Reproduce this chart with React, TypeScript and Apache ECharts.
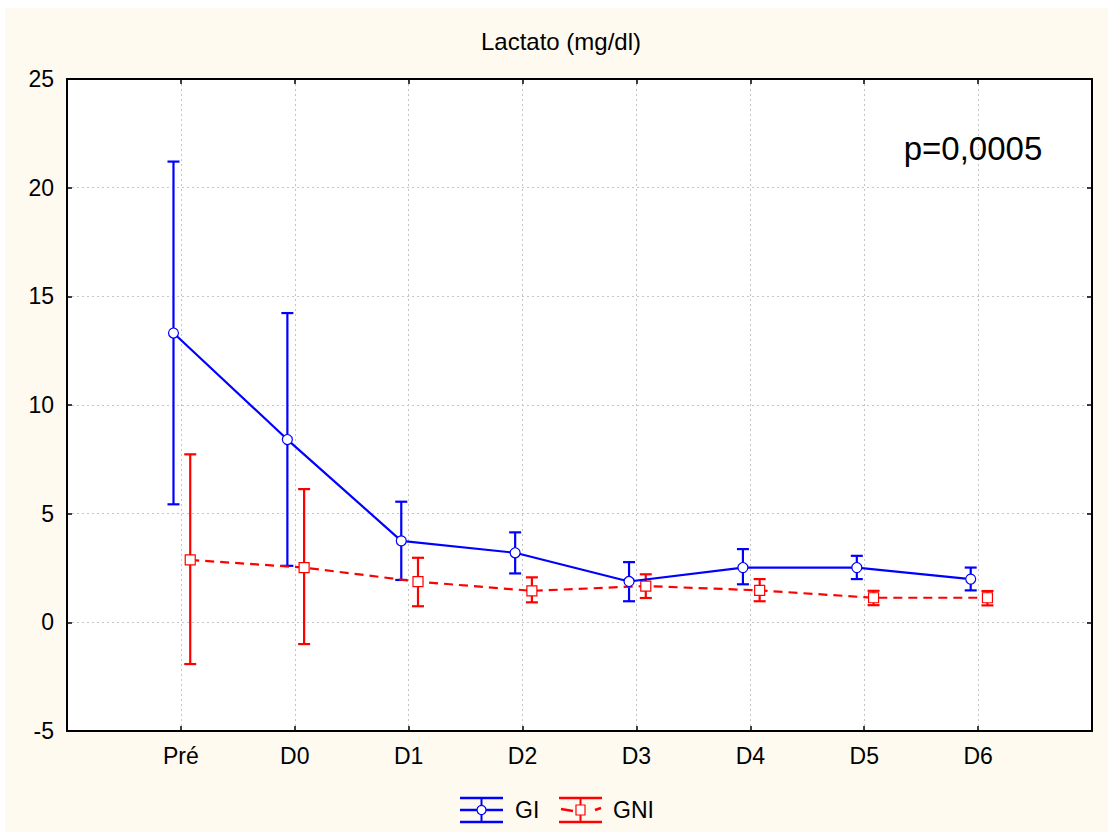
import React, { useEffect, useRef } from "react";
import * as echarts from "echarts";

const categories = ["Pré", "D0", "D1", "D2", "D3", "D4", "D5", "D6"];
const giMean = [13.31, 8.41, 3.75, 3.2, 1.88, 2.52, 2.52, 1.99];
const giLow = [5.43, 2.6, 1.95, 2.25, 0.97, 1.75, 1.99, 1.47];
const giHigh = [21.2, 14.23, 5.55, 4.14, 2.77, 3.37, 3.06, 2.52];
const gniMean = [2.87, 2.52, 1.87, 1.45, 1.67, 1.47, 1.13, 1.13];
const gniLow = [-1.92, -1.0, 0.74, 0.92, 1.12, 0.97, 0.79, 0.78];
const gniHigh = [7.73, 6.13, 2.97, 2.07, 2.21, 1.99, 1.45, 1.44];
const yMin = -5;
const yMax = 25;
const yStep = 5;
const titleText = "Lactato (mg/dl)";
const pText = "p=0,0005";
const seriesNames = ["GI", "GNI"];

const BLUE = "#0000ff";
const RED = "#ff0000";
const FONT = "'Liberation Sans', Arial, sans-serif";
const GI_OFFSET = -0.065;
const GNI_OFFSET = 0.082;

function errorBarSeries(name: string, low: number[], high: number[], offset: number, color: string) {
  return {
    type: "custom",
    name: name + "-err",
    xAxisIndex: 0,
    yAxisIndex: 0,
    z: 2,
    encode: { x: 0, y: [1, 2] },
    data: categories.map((_, i) => [i + offset, low[i], high[i]]),
    renderItem: (params: any, api: any) => {
      const x = api.value(0);
      const top = api.coord([x, api.value(2)]);
      const bot = api.coord([x, api.value(1)]);
      const w = 6;
      const style = { stroke: color, lineWidth: 2.2 };
      return {
        type: "group",
        children: [
          { type: "line", shape: { x1: top[0], y1: top[1], x2: bot[0], y2: bot[1] }, style },
          { type: "line", shape: { x1: top[0] - w, y1: top[1], x2: top[0] + w, y2: top[1] }, style },
          { type: "line", shape: { x1: bot[0] - w, y1: bot[1], x2: bot[0] + w, y2: bot[1] }, style },
        ],
      };
    },
  };
}

export default function App() {
  const ref = useRef<HTMLDivElement>(null);
  useEffect(() => {
    if (!ref.current) return;
    const chart = echarts.init(ref.current, null, { renderer: "svg" });
    const axisLine = { show: true, onZero: false, lineStyle: { color: "#000", width: 2 } };
    const tick = { show: true, inside: true, length: 5, lineStyle: { color: "#000", width: 1.5 } };
    const split = { show: true, lineStyle: { color: "#c4c4c4", type: [2, 3], width: 1 } };
    const option: any = {
      animation: false,
      backgroundColor: "transparent",
      grid: {
        left: 62,
        top: 71,
        width: 1025,
        height: 652,
        show: true,
        backgroundColor: "#ffffff",
        borderWidth: 0,
      },
      xAxis: [
        {
          type: "value",
          position: "bottom",
          min: -1,
          max: categories.length,
          interval: 1,
          axisLine,
          axisTick: tick,
          splitLine: split,
          axisLabel: {
            formatter: (v: number) => (categories[v] !== undefined ? categories[v] : ""),
            color: "#000",
            fontSize: 23,
            fontFamily: FONT,
            margin: 13,
          },
        },
        {
          type: "value",
          position: "top",
          min: -1,
          max: categories.length,
          interval: 1,
          axisLine,
          axisTick: tick,
          splitLine: { show: false },
          axisLabel: { show: false },
        },
      ],
      yAxis: [
        {
          type: "value",
          position: "left",
          min: yMin,
          max: yMax,
          interval: yStep,
          axisLine,
          axisTick: tick,
          splitLine: split,
          axisLabel: { color: "#000", fontSize: 23, fontFamily: FONT, margin: 13 },
        },
        {
          type: "value",
          position: "right",
          min: yMin,
          max: yMax,
          interval: yStep,
          axisLine,
          axisTick: tick,
          splitLine: { show: false },
          axisLabel: { show: false },
        },
      ],
      series: [
        errorBarSeries(seriesNames[1], gniLow, gniHigh, GNI_OFFSET, RED),
        errorBarSeries(seriesNames[0], giLow, giHigh, GI_OFFSET, BLUE),
        {
          type: "line",
          name: seriesNames[1],
          z: 3,
          data: categories.map((_, i) => [i + GNI_OFFSET, gniMean[i]]),
          lineStyle: { color: RED, width: 2.2, type: [9, 6] },
          symbol: "rect",
          symbolSize: [10, 10],
          itemStyle: { color: "#ffffff", borderColor: RED, borderWidth: 1.2 },
          emphasis: { disabled: true },
        },
        {
          type: "line",
          name: seriesNames[0],
          z: 4,
          data: categories.map((_, i) => [i + GI_OFFSET, giMean[i]]),
          lineStyle: { color: BLUE, width: 2.2 },
          symbol: "circle",
          symbolSize: 10,
          itemStyle: { color: "#ffffff", borderColor: BLUE, borderWidth: 1.2 },
          emphasis: { disabled: true },
        },
      ],
      graphic: [
        {
          type: "text",
          x: 556,
          y: 33,
          style: { text: titleText, font: `24px ${FONT}`, fill: "#000", textAlign: "center", textVerticalAlign: "middle" },
        },
        {
          type: "text",
          x: 968,
          y: 140,
          z: 10,
          style: { text: pText, font: `33px ${FONT}`, fill: "#000", textAlign: "center", textVerticalAlign: "middle" },
        },
        // legend GI
        { type: "line", shape: { x1: 455, y1: 790, x2: 498, y2: 790 }, style: { stroke: BLUE, lineWidth: 2.5 } },
        { type: "line", shape: { x1: 455, y1: 802, x2: 498, y2: 802 }, style: { stroke: BLUE, lineWidth: 2.5 } },
        { type: "line", shape: { x1: 455, y1: 814, x2: 498, y2: 814 }, style: { stroke: BLUE, lineWidth: 2.5 } },
        { type: "line", shape: { x1: 476.5, y1: 790, x2: 476.5, y2: 814 }, style: { stroke: BLUE, lineWidth: 2 } },
        { type: "circle", shape: { cx: 476.5, cy: 802, r: 4.5 }, style: { fill: "#fff", stroke: BLUE, lineWidth: 1.2 } },
        {
          type: "text",
          x: 510,
          y: 802,
          style: { text: seriesNames[0], font: `23px ${FONT}`, fill: "#000", textVerticalAlign: "middle" },
        },
        // legend GNI
        { type: "line", shape: { x1: 554, y1: 790, x2: 597, y2: 790 }, style: { stroke: RED, lineWidth: 2.5 } },
        { type: "line", shape: { x1: 554, y1: 814, x2: 597, y2: 814 }, style: { stroke: RED, lineWidth: 2.5 } },
        { type: "line", shape: { x1: 575.5, y1: 790, x2: 575.5, y2: 814 }, style: { stroke: RED, lineWidth: 2 } },
        { type: "line", shape: { x1: 556, y1: 801, x2: 568, y2: 803 }, style: { stroke: RED, lineWidth: 2.5 } },
        { type: "line", shape: { x1: 590, y1: 802, x2: 596, y2: 800 }, style: { stroke: RED, lineWidth: 2.5 } },
        { type: "rect", shape: { x: 571, y: 797, width: 9, height: 10 }, style: { fill: "#fff", stroke: RED, lineWidth: 1.2 } },
        {
          type: "text",
          x: 608,
          y: 802,
          style: { text: seriesNames[1], font: `23px ${FONT}`, fill: "#000", textVerticalAlign: "middle" },
        },
      ],
    };
    chart.setOption(option);
    return () => chart.dispose();
  }, []);
  return (
    <div style={{ position: "fixed", left: 0, top: 0, width: 1108, height: 832, background: "#ffffff" }}>
      <div
        ref={ref}
        style={{ position: "absolute", left: 5, top: 8, width: 1103, height: 824, background: "#FFFAF0" }}
      />
    </div>
  );
}
